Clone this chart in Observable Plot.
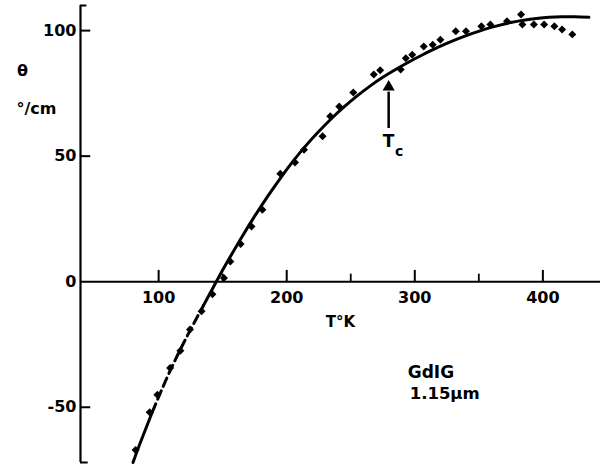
<!DOCTYPE html>
<html>
<head>
<meta charset="utf-8">
<script src="https://cdn.jsdelivr.net/npm/d3@7"></script>
<script src="https://cdn.jsdelivr.net/npm/@observablehq/plot@0.6"></script>
<style>
  html, body { margin: 0; padding: 0; background: #fff; }
  #chart svg { display: block; }
</style>
</head>
<body>
<div id="chart"></div>
<script>
// Fitted curve (T in K, Faraday rotation θ in °/cm)
const curveT     = [80, 85, 95, 105, 115, 125, 135, 145, 155, 165, 175, 185, 195, 205, 215, 225, 235, 245, 255, 265, 275, 285, 295, 305, 315, 325, 335, 345, 355, 365, 375, 385, 395, 405, 415, 425, 436];
const curveTheta = [-72, -65, -52, -40, -29, -19, -9.5, 0, 9.1, 17.8, 26.1, 33.9, 41.2, 48.0, 54.2, 59.8, 65.0, 69.7, 74.0, 77.9, 81.4, 84.5, 87.4, 90.1, 92.6, 94.9, 97.0, 98.9, 100.6, 102.0, 103.2, 104.1, 104.8, 105.3, 105.5, 105.5, 105.3];

// Measured points
const pointT     = [82, 93, 99, 109, 117, 124.5, 133.5, 142, 151, 156, 164, 172.5, 181, 195, 206.5, 213.5, 228, 234, 241, 252, 268, 273, 289, 293, 298, 307, 314, 320, 332, 340, 352, 359, 372, 383, 384, 393, 401, 409, 415, 423];
const pointTheta = [-67, -52, -45, -34.4, -27.5, -19, -11.8, -5, 1.5, 8, 15, 22, 28.7, 43, 47.5, 52.6, 57.9, 65.9, 69.8, 75.4, 82.5, 84.2, 84.5, 89, 90.4, 93.7, 94.4, 96.4, 99.7, 99.7, 101.7, 102.4, 103.7, 106.4, 102.4, 102.4, 102.4, 101.7, 100.4, 98.5];

// Axes
const yTicks = [-50, 0, 50, 100];
const yTickLabels = ["-50", "0", "50", "100"];
const yMarkTicks = [-50, 50, 100];
const xTicks = [100, 200, 300, 400];
const xTickLabels = ["100", "200", "300", "400"];
const xMinorTicks = [150, 250, 350];

// Annotations
const tcT = 279.6;
const tcArrowFrom = 61;
const tcArrowTo = 77.5;

const curve = curveT.map((t, i) => ({t, v: curveTheta[i]}));
const solidLow = curve.filter(d => d.t <= 95);
const dashedMid = curve.filter(d => d.t >= 95 && d.t <= 135);
const solidHigh = curve.filter(d => d.t >= 135);
const points = pointT.map((t, i) => ({t, v: pointTheta[i]}));

const xMin = 39, xMax = 445, yMin = -72, yMax = 110;

const chart = Plot.plot({
  width: 601,
  height: 468,
  marginLeft: 80,
  marginRight: 1,
  marginTop: 5,
  marginBottom: 6,
  x: {domain: [xMin, xMax], axis: null},
  y: {domain: [yMin, yMax], axis: null},
  style: {fontFamily: "DejaVu Sans", fontSize: "15px", fontWeight: "bold", color: "#000", background: "#fff"},
  marks: [
    // y axis line with end serifs
    Plot.ruleX([xMin], {y1: yMin, y2: yMax, strokeWidth: 2.2}),
    Plot.ruleY([yMax], {x1: xMin, x2: xMin + 5, strokeWidth: 2}),
    Plot.ruleY([yMin], {x1: xMin, x2: xMin + 6, strokeWidth: 2}),
    Plot.ruleY(yMarkTicks, {x1: xMin, x2: xMin + 8, strokeWidth: 2}),
    Plot.text(yTicks, {x: xMin, y: d => d, text: (d, i) => yTickLabels[i], textAnchor: "end", dx: -4, fontSize: 16}),
    // x axis at θ = 0
    Plot.ruleY([0], {x1: xMin, x2: xMax, strokeWidth: 2}),
    Plot.ruleX(xTicks, {y1: 0, y2: 4.5, strokeWidth: 2}),
    Plot.ruleX(xMinorTicks, {y1: 0, y2: 3, strokeWidth: 1.8}),
    Plot.text(xTicks, {x: d => d, y: 0, text: (d, i) => xTickLabels[i], dy: 16, fontSize: 16}),
    // curve
    Plot.line(solidLow, {x: "t", y: "v", curve: "natural", strokeWidth: 3}),
    Plot.line(dashedMid, {x: "t", y: "v", curve: "natural", strokeWidth: 3, strokeDasharray: "9,5"}),
    Plot.line(solidHigh, {x: "t", y: "v", curve: "natural", strokeWidth: 3}),
    // data points
    Plot.dot(points, {x: "t", y: "v", symbol: "diamond2", r: 3.6, fill: "#000", stroke: "none"}),
    // Tc arrow
    Plot.ruleX([tcT], {y1: tcArrowFrom, y2: tcArrowTo - 2, strokeWidth: 2.5}),
    Plot.dot([tcT], {x: d => d, y: tcArrowTo, symbol: "triangle", r: 4.5, fill: "#000", stroke: "none"}),
    Plot.text(["T"], {x: 275, y: 55.8, text: d => d, textAnchor: "start", fontSize: 17}),
    Plot.text(["c"], {x: 284.5, y: 52, text: d => d, textAnchor: "start", fontSize: 14}),
    // axis titles
    Plot.text(["θ"], {x: -6.3, y: 84.1, text: d => d, fontSize: 16}),
    Plot.text(["°/cm"], {x: -11, y: 69, text: d => d, textAnchor: "start", fontSize: 16}),
    Plot.text(["T°K"], {x: 242, y: -16.2, text: d => d, fontSize: 15}),
    // sample label
    Plot.text(["GdIG"], {x: 294.5, y: -36.2, text: d => d, textAnchor: "start", fontSize: 17}),
    Plot.text(["1.15μm"], {x: 296, y: -44.5, text: d => d, textAnchor: "start", fontSize: 16.5})
  ]
});

document.getElementById("chart").appendChild(chart);
</script>
</body>
</html>
